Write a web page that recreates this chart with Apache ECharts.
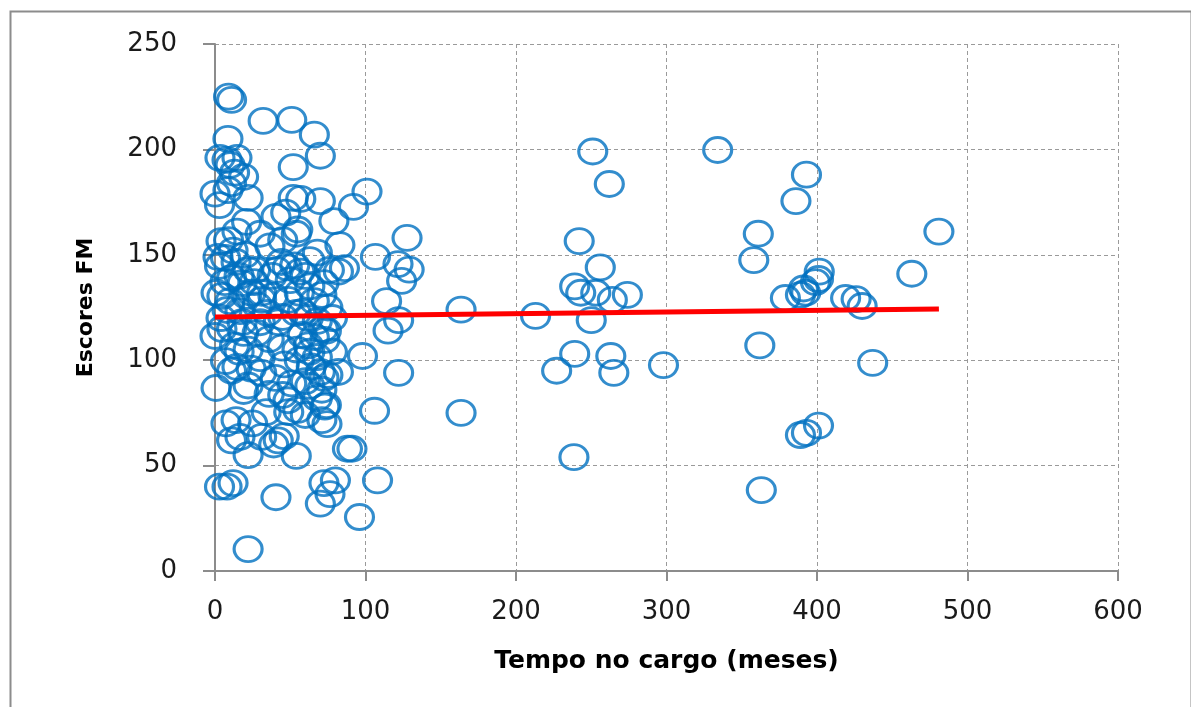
<!DOCTYPE html>
<html>
<head>
<meta charset="utf-8">
<script src="https://cdn.jsdelivr.net/npm/echarts@6/dist/echarts.min.js"></script>
<style>
html,body{margin:0;padding:0;background:#fff;}
#chart{width:1191px;height:707px;}
</style>
</head>
<body>
<div id="chart"></div>
<script>
// Tempo no cargo (meses)
const tempoMeses = [
101,106.6,127.6,129,121.6,124,114,115,122,122,106,108,98,91,88,96,92,163.5,163.5,213,227,242,239,243,239,238.5,
251,262,256,253,250,264,274,263,265,298,334,358,361,362,363,386,393,379,389,391,392.5,401,401.5,399,389,393,401,
419,426,430,437,463,481,
9,11,32,51,66,70,8.6,52,3.3,8,14.6,10,13,19,11,8.6,0,3,22,52,57,70,79,21,40.5,47,55,30,14.6,9,4,
2,7,3,14,22,27,18,11,6.6,24,31,41,48,53,56.5,63,68,76,82,86,83,72.4,63,56,48.5,38.5,31,21,4.6,0.7,
8,16.6,28,35,45,54,58,68,75,71,0,4.6,11,19,28,13,22,7,14.6,11,30,44.5,54.5,63,68,73,74,72,62,56,64,
70,75,72.4,82,63,51,40,31,45,48.5,22,19,71,74,55,60,49,34,25,14,7.3,16.6,11,31,42,46,39,22,54,71,74.4,
73,80,72.4,76.4,70,40.5,8,3,12,22,0.7,45,54,36.5,44,
16,20,12,26,60,66,78,10,18,36,42,58,66,24,36,60,68,16,50,38,4,62,30,46,78
];
// Escores FM
const escoresFM = [
180,149,158,143,145.6,137.6,128,114,119,94,76,43,102,58,58,25.6,172.7,124,75,121,95,156.5,135,132,103,54,
199,183.6,144,132,119,128.6,131,102,94,97.7,199.7,147.5,160,107,38.4,175.5,188,129.5,131,134,132,138.5,142,137,64.5,65.5,69,
129.5,129,125.7,98.7,141,161,
225,223.5,213.5,214,207,197,205,191.6,196,195,196,192.6,189,187,184,180.7,179,173.6,177,177,176.5,175.5,166,165.6,168,170,162,160,161,157,156.5,
149,148.5,144.7,146.6,142.8,142.8,136.6,139,137,132,132,142.8,144,145,142,147.5,151,142.8,142,143.7,154.6,136.6,135,132,128.6,130.5,128.6,130.5,130.5,132,
123.8,123.3,126,122.4,120.5,122.4,122.9,118.6,125,131,111.5,114.8,115,113,113,107,105,99.6,96.8,95,101,106,105,104,101.5,109.6,114,114.8,107,100,97,
94.4,93,91.6,94.4,87.8,89,91.6,94,83.5,81,88,85.4,86,78.7,76.4,74,75.4,75.4,70,71.6,70,63.6,62,63.6,62,64,60,55,54.6,71.6,69.7,
78,43,41.7,36.5,32,35,40,40,41.7,10.4,86.8,157,160,154,146.6,
140,150,152,137,140,128,120,128,118,110,118,112,111,96,84,90,82,104,138,140,120,120,118,98,104
];
// Trend line endpoints
const trendX = [0, 481];
const trendY = [120.5, 124.3];
// Axis ticks
const xTicks = [0, 100, 200, 300, 400, 500, 600];
const yTicks = [0, 50, 100, 150, 200, 250];

const points = tempoMeses.map((x, i) => [x, escoresFM[i]]);
const trend = trendX.map((x, i) => [x, trendY[i]]);

const chart = echarts.init(document.getElementById('chart'), null, {renderer: 'canvas'});
const axisLbl = {fontFamily: 'DejaVu Sans', fontSize: 26, color: '#1a1a1a'};
chart.setOption({
  animation: false,
  backgroundColor: '#fff',
  graphic: [{
    type: 'rect', left: 8, top: 9, shape: {width: 1181, height: 720},
    style: {fill: 'none', stroke: '#8c8c8c', lineWidth: 2}, silent: true, z: -1
  }],
  grid: {left: 215, right: 73, top: 44, bottom: 136},
  xAxis: {
    type: 'value', min: xTicks[0], max: xTicks[xTicks.length - 1], interval: 100,
    name: 'Tempo no cargo (meses)', nameLocation: 'middle', nameGap: 78,
    nameTextStyle: {fontFamily: 'DejaVu Sans', fontWeight: 'bold', fontSize: 25, color: '#000'},
    axisLine: {show: true, onZero: false, lineStyle: {color: '#8c8c8c', width: 2}},
    axisTick: {show: true, length: 10, inside: false, lineStyle: {color: '#8c8c8c', width: 2}},
    axisLabel: Object.assign({margin: 28}, axisLbl),
    splitLine: {show: true, lineStyle: {color: '#9a9a9a', type: [4, 3], width: 1}}
  },
  yAxis: {
    type: 'value', min: yTicks[0], max: yTicks[yTicks.length - 1], interval: 50,
    name: 'Escores FM', nameLocation: 'middle', nameGap: 118, nameRotate: 90,
    nameTextStyle: {fontFamily: 'DejaVu Sans', fontWeight: 'bold', fontSize: 22, color: '#000'},
    axisLine: {show: true, lineStyle: {color: '#8c8c8c', width: 2}},
    axisTick: {show: true, length: 12, inside: false, lineStyle: {color: '#8c8c8c', width: 2}},
    axisLabel: Object.assign({margin: 38}, axisLbl),
    splitLine: {show: true, lineStyle: {color: '#9a9a9a', type: [4, 3], width: 1}}
  },
  series: [
    {
      type: 'scatter', data: points, symbol: 'circle', symbolSize: [28, 25],
      itemStyle: {color: 'rgba(0,0,0,0)', borderColor: '#0070C0', borderWidth: 3},
      z: 2
    },
    {
      type: 'line', data: trend, showSymbol: false, symbol: 'none',
      lineStyle: {color: '#FF0000', width: 5}, z: 3
    }
  ]
});
</script>
</body>
</html>
